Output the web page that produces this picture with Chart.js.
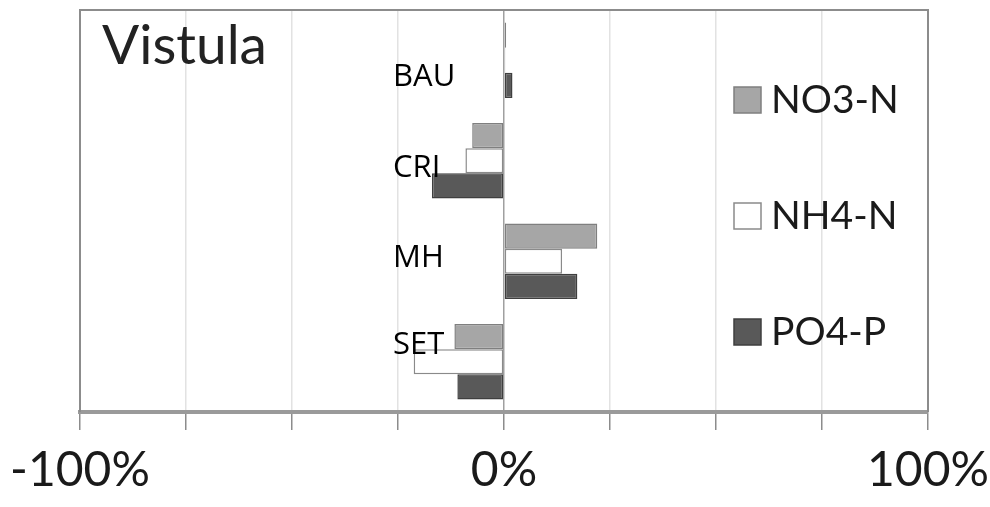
<!DOCTYPE html>
<html>
<head>
<meta charset="utf-8">
<script src="https://cdn.jsdelivr.net/npm/chart.js@4.4.0/dist/chart.umd.min.js"></script>
<style>
    html, body { margin: 0; padding: 0; background: #fff; }
    #wrap { width: 990px; height: 507px; }
</style>
</head>
<body>
<div id="wrap"><canvas id="chart" width="990" height="507"></canvas></div>
<script>
// Vistula - change per scenario
const scenarios = ['BAU', 'CRI', 'MH', 'SET'];
const no3 = [0.005, -0.075, 0.22, -0.117];
const nh4 = [0.003, -0.091, 0.137, -0.213];
const po4 = [0.02, -0.17, 0.173, -0.11];
const tickLabels = { '-1': '-100%', '0': '0%', '1': '100%' };
const labelRows = [77, 168, 258, 345]; // where the scenario names sit

const FONT = 'Lato, "Open Sans", sans-serif';

// frame + title + scenario names + legend
const decorations = {
    id: 'decorations',
    afterDraw(chart) {
        const ctx = chart.ctx;
        const a = chart.chartArea;
        ctx.save();
        ctx.strokeStyle = '#8c8c8c';
        ctx.lineWidth = 2;
        ctx.beginPath();
        ctx.moveTo(a.left, a.bottom);
        ctx.lineTo(a.left, a.top);
        ctx.lineTo(a.right, a.top);
        ctx.lineTo(a.right, a.bottom);
        ctx.stroke();

        ctx.fillStyle = '#222';
        ctx.textBaseline = 'middle';
        ctx.font = '55px ' + FONT;
        ctx.fillText('Vistula', 102, 46);

        ctx.font = '31px "Open Sans", sans-serif';
        ctx.fillStyle = '#000';
        scenarios.forEach((s, i) => ctx.fillText(s, 393, labelRows[i]));

        ctx.font = '39px ' + FONT;
        chart.data.datasets.forEach((ds, i) => {
            const y = 100 + i * 116;
            ctx.fillStyle = ds.backgroundColor;
            ctx.strokeStyle = ds.borderColor;
            ctx.lineWidth = 1.5;
            ctx.fillRect(734, y - 13, 27, 26);
            ctx.strokeRect(734, y - 13, 27, 26);
            ctx.fillStyle = '#1a1a1a';
            ctx.fillText(ds.label, 771, y);
        });
        ctx.restore();
    }
};

new Chart(document.getElementById('chart'), {
    type: 'bar',
    data: {
        labels: scenarios,
        datasets: [
            { label: 'NO3-N', data: no3, backgroundColor: '#a6a6a6', borderColor: '#7f7f7f' },
            { label: 'NH4-N', data: nh4, backgroundColor: '#ffffff', borderColor: '#8a8a8a' },
            { label: 'PO4-P', data: po4, backgroundColor: '#595959', borderColor: '#3f3f3f' }
        ]
    },
    options: {
        indexAxis: 'y',
        responsive: false,
        animation: false,
        layout: { padding: { left: 80, right: 62, top: 10, bottom: 0 } },
        datasets: {
            bar: { categoryPercentage: 0.75, barPercentage: 1.0, borderWidth: 1.5, borderSkipped: false }
        },
        scales: {
            x: {
                min: -1,
                max: 1,
                ticks: {
                    stepSize: 0.25,
                    autoSkip: false,
                    maxRotation: 0,
                    padding: 12,
                    color: '#1a1a1a',
                    font: { family: FONT, size: 48 },
                    callback: v => tickLabels[String(v)] || ''
                },
                grid: {
                    color: ctx => ctx.tick && ctx.tick.value === 0 ? '#a0a0a0' : '#e2e2e2',
                    lineWidth: 1.5,
                    tickLength: 18,
                    tickColor: '#8c8c8c',
                    drawOnChartArea: true
                },
                border: { display: true, color: '#9a9a9a', width: 4 },
                afterFit: scale => {
                    scale.height = 95;
                    // labels may hang past the plot edges, like the original
                    scale.paddingLeft = 0;
                    scale.paddingRight = 0;
                }
            },
            y: { display: false }
        },
        plugins: {
            legend: { display: false },
            tooltip: { enabled: false }
        }
    },
    plugins: [decorations]
});
</script>
</body>
</html>
